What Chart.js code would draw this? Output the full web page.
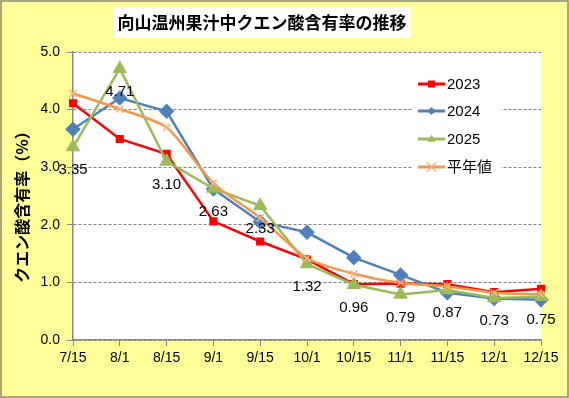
<!DOCTYPE html>
<html><head><meta charset="utf-8">
<script src="https://cdn.jsdelivr.net/npm/chart.js@4/dist/chart.umd.min.js"></script>
<style>html,body{margin:0;padding:0;background:#FFFF99;}#wrap{width:569px;height:398px;position:relative;}</style>
</head><body><div id="wrap"><canvas id="c" width="569" height="398"></canvas></div>
<script>
const titleText = '向山温州果汁中クエン酸含有率の推移';
const yTitle = 'クエン酸含有率（%）';
const categories = ['7/15','8/1','8/15','9/1','9/15','10/1','10/15','11/1','11/15','12/1','12/15'];
const seriesNames = ['2023','2024','2025','平年値'];
const v2023 = [4.11, 3.49, 3.23, 2.06, 1.71, 1.40, 0.97, 0.98, 0.97, 0.83, 0.89];
const v2024 = [3.66, 4.20, 3.97, 2.62, 2.05, 1.87, 1.43, 1.13, 0.82, 0.72, 0.70];
const v2025 = [3.35, 4.71, 3.10, 2.63, 2.33, 1.32, 0.96, 0.79, 0.87, 0.73, 0.75];
const vAvg  = [4.28, 4.01, 3.69, 2.72, 2.12, 1.42, 1.15, 0.99, 0.93, 0.82, 0.79];
const yTicks = [0, 1, 2, 3, 4, 5];

const FONT = "'Liberation Sans', 'Noto Sans CJK JP', sans-serif";
const JFONT = "'Noto Sans CJK JP', sans-serif";

function drawMarker(ctx, style, x, y, r, color, lw) {
  ctx.save();
  ctx.fillStyle = color; ctx.strokeStyle = color; ctx.lineWidth = lw || 1.5;
  ctx.beginPath();
  if (style === 'rect') { ctx.fillRect(x - r, y - r, 2*r, 2*r); }
  else if (style === 'rectRot') { ctx.moveTo(x, y - r); ctx.lineTo(x + r, y); ctx.lineTo(x, y + r); ctx.lineTo(x - r, y); ctx.closePath(); ctx.fill(); }
  else if (style === 'triangle') { ctx.moveTo(x, y - r); ctx.lineTo(x + r*0.9, y + r*0.6); ctx.lineTo(x - r*0.9, y + r*0.6); ctx.closePath(); ctx.fill(); }
  else if (style === 'crossRot') { ctx.moveTo(x - r, y - r); ctx.lineTo(x + r, y + r); ctx.moveTo(x + r, y - r); ctx.lineTo(x - r, y + r); ctx.stroke(); }
  ctx.restore();
}

const framePlugin = {
  id: 'frame',
  beforeDraw(chart) {
    const ctx = chart.ctx, ca = chart.chartArea;
    ctx.save();
    ctx.fillStyle = '#FFFF99';
    ctx.fillRect(0, 0, chart.width, chart.height);
    ctx.fillStyle = '#FFFFFF';
    ctx.fillRect(ca.left, ca.top, ca.right - ca.left, ca.bottom - ca.top);
    ctx.strokeStyle = '#8a8a70';
    ctx.lineWidth = 1.5;
    ctx.strokeRect(1, 1, chart.width - 2, chart.height - 2);
    // title
    ctx.font = "bold 17px " + JFONT;
    const tw = ctx.measureText(titleText).width;
    const cx = 262, cy = 23;
    ctx.fillStyle = '#FFFFFF';
    ctx.fillRect(cx - tw/2 - 4, 8, tw + 8, 30);
    ctx.fillStyle = '#000';
    ctx.textAlign = 'center'; ctx.textBaseline = 'middle';
    ctx.fillText(titleText, cx, cy);
    // y axis title
    ctx.translate(22, 203);
    ctx.rotate(-Math.PI / 2);
    ctx.font = "bold 16px " + JFONT;
    ctx.fillText(yTitle, 0, 0);
    ctx.restore();
  },
  afterDatasetsDraw(chart) {
    const ctx = chart.ctx;
    const meta = chart.getDatasetMeta(2);
    ctx.save();
    ctx.font = "15px " + FONT;
    ctx.fillStyle = '#000';
    ctx.textAlign = 'center'; ctx.textBaseline = 'middle';
    meta.data.forEach((pt, i) => {
      ctx.fillText(v2025[i].toFixed(2), pt.x, pt.y + 23);
    });
    ctx.fillStyle = '#FFFFFF';
    ctx.fillRect(413, 70, 88, 110);
    const rows = [84, 111, 139, 167];
    chart.data.datasets.forEach((ds, i) => {
      const y = rows[i];
      ctx.strokeStyle = ds.borderColor; ctx.lineWidth = 3;
      ctx.beginPath(); ctx.moveTo(418, y); ctx.lineTo(445, y); ctx.stroke();
      drawMarker(ctx, ds.pointStyle, 431.5, y, ds.legendR, ds.pointBackgroundColor, 1.5);
      ctx.fillStyle = '#000';
      ctx.textAlign = 'left'; ctx.textBaseline = 'middle';
      ctx.font = "15px " + FONT;
      ctx.fillText(seriesNames[i], 447, y + 1);
    });
    ctx.restore();
  }
};

new Chart(document.getElementById('c'), {
  type: 'line',
  data: {
    labels: categories,
    datasets: [
      { label: seriesNames[0], data: v2023, borderColor: '#FF0000', backgroundColor: '#FF0000', pointBackgroundColor: '#FF0000', pointBorderColor: '#FF0000', pointStyle: 'rect', pointRadius: 4, borderWidth: 2.5, tension: 0, order: 3, legendR: 3.5 },
      { label: seriesNames[1], data: v2024, borderColor: '#4F81BD', backgroundColor: '#4F81BD', pointBackgroundColor: '#4F81BD', pointBorderColor: '#4F81BD', pointStyle: 'rectRot', pointRadius: 6, borderWidth: 2.5, tension: 0, order: 2, legendR: 4 },
      { label: seriesNames[2], data: v2025, borderColor: '#9BBB59', backgroundColor: '#9BBB59', pointBackgroundColor: '#9BBB59', pointBorderColor: '#9BBB59', pointStyle: 'triangle', pointRadius: 6, borderWidth: 2.5, tension: 0, order: 1, legendR: 4.5 },
      { label: seriesNames[3], data: vAvg, borderColor: '#F79646', backgroundColor: '#F79646', pointBackgroundColor: '#F9B07A', pointBorderColor: '#F9B07A', pointStyle: 'crossRot', pointRadius: 5, pointBorderWidth: 1.5, borderWidth: 2.5, tension: 0.25, order: 0, legendR: 4.5 }
    ]
  },
  options: {
    responsive: false,
    animation: false,
    devicePixelRatio: 1,
    layout: { padding: { left: 0, right: 28, top: 52, bottom: 0 } },
    plugins: { legend: { display: false }, title: { display: false }, tooltip: { enabled: false } },
    scales: {
      x: {
        offset: false,
        grid: { drawOnChartArea: false, drawTicks: true, tickLength: 6, color: '#888', tickColor: '#888', tickWidth: 1 },
        border: { display: true, color: '#888', width: 1.5 },
        ticks: { color: '#000', font: { size: 14, family: FONT }, padding: 4, maxRotation: 0, autoSkip: false },
        afterFit(s) { s.height = 58; }
      },
      y: {
        min: 0, max: 5,
        afterBuildTicks(s) { s.ticks = yTicks.map(v => ({ value: v })); },
        grid: { color: '#808080', lineWidth: 1, tickLength: 6, tickColor: '#888', tickWidth: 1, tickBorderDash: [] },
        border: { display: true, color: '#888', width: 1.5, dash: [3, 2] },
        ticks: { color: '#000', font: { size: 14, family: FONT }, padding: 7, callback: v => Number(v).toFixed(1) },
        afterFit(s) { s.width = 73; }
      }
    }
  },
  plugins: [framePlugin]
});
</script>
</body></html>
